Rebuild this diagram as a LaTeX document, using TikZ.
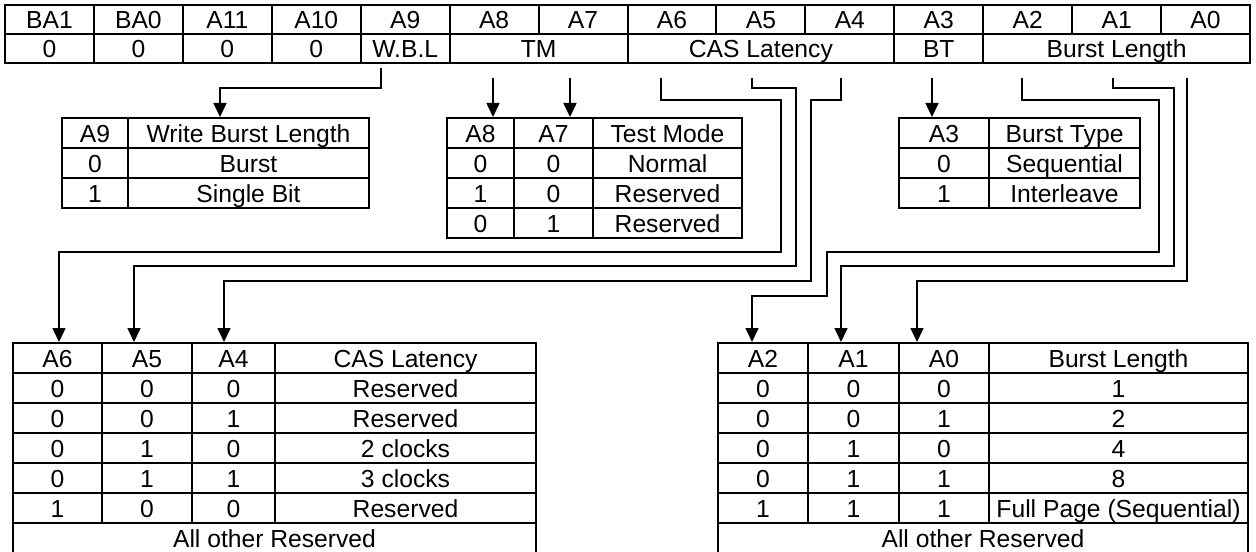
\documentclass[tikz,border=0pt]{standalone}
\usepackage{fontspec}
\setmainfont{Liberation Sans}
\usetikzlibrary{arrows.meta}

\begin{document}
\begin{tikzpicture}
[
 x=0.75pt, y=-0.75pt,
 every node/.style ={font=\fontsize{18.5}{22}\selectfont},
 inner sep=0pt,
 REG/.style={rectangle, draw=black, line width=1.5pt, minimum width=66.7pt, minimum height=21.75pt, text height=14pt, text depth=0pt},
 CELL/.style={rectangle, draw=black, line width=1.5pt, minimum height=22.5pt, text height=14.4pt, text depth=0pt},
 WIRE/.style={draw=black, line width=1.2pt, -{Triangle[width=9.75pt,length=10.5pt]}},
 ]
%
\useasboundingbox (0,0) rectangle (1256,552);
%
% mode register
\foreach \lab [count=\i from 0] in {BA1,BA0,A11,A10,A9,A8,A7,A6,A5,A4,A3,A2,A1,A0}
      {
        \node [REG]  (h\i)  at ({5+88.93*(\i+0.5)}, 19.5)  {\lab};
       }
%
\foreach \lab/\c/\n [count=\k] in {0/0/1,0/1/1,0/2/1,0/3/1,W.B.L/4/1,TM/5/2,CAS Latency/7/3,BT/10/1,Burst Length/11/3}
      {
        \node [REG, minimum width=\n*66.7pt]  (v\k)  at ({5+88.93*(\c+\n/2)}, 48.5)  {\lab};
       }
%
% write burst length
\foreach \a/\b [count=\r] in {A9/Write Burst Length,0/Burst,1/Single Bit}
      {
        \node [CELL, minimum width=49.5pt]   (W\r-a)  at (95, {103+30*\r})     {\a};
        \node [CELL, minimum width=180.75pt] (W\r-b)  at (248.5, {103+30*\r})  {\b};
       }
%
% test mode
\foreach \a/\b/\c [count=\r] in {A8/A7/Test Mode,0/0/Normal,1/0/Reserved,0/1/Reserved}
      {
        \node [CELL, minimum width=50.25pt]  (T\r-a)  at (480.5, {103+30*\r})  {\a};
        \node [CELL, minimum width=59.25pt]  (T\r-b)  at (553.5, {103+30*\r})  {\b};
        \node [CELL, minimum width=111.75pt] (T\r-c)  at (667.5, {103+30*\r})  {\c};
       }
%
% burst type
\foreach \a/\b [count=\r] in {A3/Burst Type,0/Sequential,1/Interleave}
      {
        \node [CELL, minimum width=67.5pt]   (B\r-a)  at (944, {103+30*\r})     {\a};
        \node [CELL, minimum width=113.25pt] (B\r-b)  at (1064.5, {103+30*\r})  {\b};
       }
%
% CAS latency
\foreach \a/\b/\c/\d [count=\r] in {A6/A5/A4/CAS Latency,0/0/0/Reserved,0/0/1/Reserved,0/1/0/2 clocks,0/1/1/3 clocks,1/0/0/Reserved}
      {
        \node [CELL, minimum width=66.75pt]  (C\r-a)  at (57.5, {328+30*\r})   {\a};
        \node [CELL, minimum width=67.5pt]   (C\r-b)  at (147, {328+30*\r})    {\b};
        \node [CELL, minimum width=62.25pt]  (C\r-c)  at (233.5, {328+30*\r})  {\c};
        \node [CELL, minimum width=195.75pt] (C\r-d)  at (405.5, {328+30*\r})  {\d};
       }
\node [CELL, minimum width=392.25pt]  (C7)  at (274.5, 538)  {All other Reserved};
%
% burst length
\foreach \a/\b/\c/\d [count=\r] in {A2/A1/A0/Burst Length,0/0/0/1,0/0/1/2,0/1/0/4,0/1/1/8,1/1/1/Full Page (Sequential)}
      {
        \node [CELL, minimum width=67.5pt]   (L\r-a)  at (763, {328+30*\r})     {\a};
        \node [CELL, minimum width=68.25pt]  (L\r-b)  at (853.5, {328+30*\r})   {\b};
        \node [CELL, minimum width=67.5pt]   (L\r-c)  at (944, {328+30*\r})     {\c};
        \node [CELL, minimum width=194.25pt] (L\r-d)  at (1118.5, {328+30*\r})  {\d};
       }
\node [CELL, minimum width=397.5pt]  (L7)  at (983, 538)  {All other Reserved};
%
% taps under the register
\coordinate (oA9)  at (381, 68);
\coordinate (oA8)  at (493, 78);
\coordinate (oA7)  at (570, 78);
\coordinate (oA6)  at (661, 78);
\coordinate (oA5)  at (752, 78);
\coordinate (oA4)  at (841, 78);
\coordinate (oA3)  at (932, 78);
\coordinate (oA2)  at (1022, 78);
\coordinate (oA1)  at (1113, 78);
\coordinate (oA0)  at (1187, 78);
%
% inputs on the tables
\coordinate (iA9)  at (220,0 |- W1-b.north);
\coordinate (iA8)  at (493,0 |- T1-a.north);
\coordinate (iA7)  at (570,0 |- T1-b.north);
\coordinate (iA3)  at (932,0 |- B1-a.north);
\coordinate (iA6)  at (59,0 |- C1-a.north);
\coordinate (iA5)  at (134,0 |- C1-b.north);
\coordinate (iA4)  at (224,0 |- C1-c.north);
\coordinate (iA2)  at (752,0 |- L1-a.north);
\coordinate (iA1)  at (841,0 |- L1-b.north);
\coordinate (iA0)  at (917,0 |- L1-c.north);
%
\draw [WIRE]  (oA9) |- (220,88) -- (iA9);
\draw [WIRE]  (oA8) -- (iA8);
\draw [WIRE]  (oA7) -- (iA7);
\draw [WIRE]  (oA3) -- (iA3);
%
\draw [WIRE]  (oA6) |- (781,100) |- (59,252) -- (iA6);
\draw [WIRE]  (oA5) |- (796,88) |- (134,266) -- (iA5);
\draw [WIRE]  (oA4) |- (811,100) |- (224,281) -- (iA4);
%
\draw [WIRE]  (oA2) |- (1159,100) |- (827,252) |- (752,296) -- (iA2);
\draw [WIRE]  (oA1) |- (1174,88) |- (841,266) -- (iA1);
\draw [WIRE]  (oA0) |- (917,281) -- (iA0);
\end{tikzpicture}
\end{document}
